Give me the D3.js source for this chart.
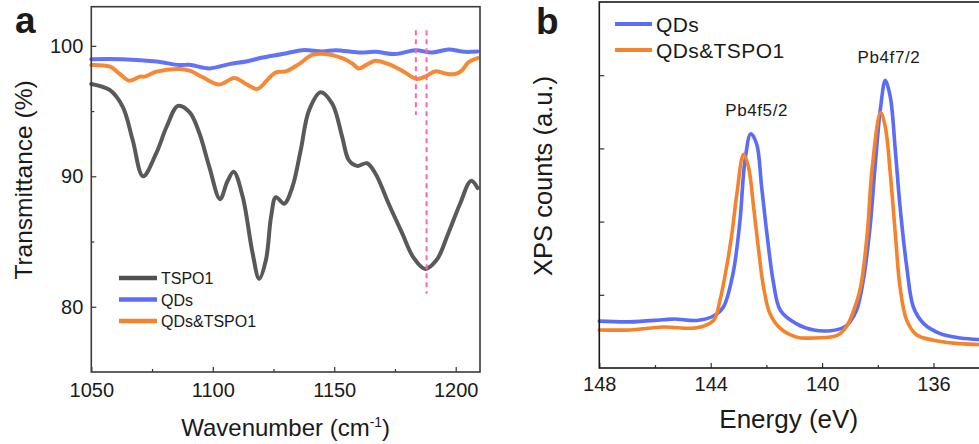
<!DOCTYPE html>
<html><head><meta charset="utf-8">
<script src="https://cdn.jsdelivr.net/npm/d3@7"></script>
<style>
body{margin:0;background:#fff}
text{font-family:Arial,"Liberation Sans",Helvetica,sans-serif;fill:#1a1a1a}
</style></head>
<body><svg id="chart" width="979" height="444"></svg>
<script>
// ---------- Panel a: FTIR ----------
const tspo1Wave = [1050,1057.7,1063,1067,1071.3,1076.8,1081,1085.7,1090.5,1094.5,1098.6,1103,1106,1108.6,1112.3,1116.4,1119.1,1121.9,1124,1126,1129.4,1132.8,1136.2,1139.6,1144.4,1149.2,1153.3,1156,1159.4,1163.5,1167,1172.4,1177.9,1182.7,1187.4,1192.2,1197,1201.8,1206.3,1209];
const tspo1T   = [97.08,96.6,95.3,92.8,90.0,91.8,93.8,95.4,94.9,93.3,90.7,88.25,89.6,90.35,88.45,84.1,82.15,83.6,86.9,88.4,87.9,89.2,92.0,95.05,96.45,95.56,93.0,91.24,90.8,91.0,90.2,87.9,85.66,83.75,82.9,83.6,85.66,87.9,89.65,89.1];
const qdsWave = [1050,1063,1076.8,1086.3,1090.4,1098.6,1106.8,1113.7,1120.5,1128.7,1136.9,1145.1,1150.6,1160.1,1167,1175.2,1183.4,1190.2,1197,1203.8,1209];
const qdsT    = [98.98,98.98,98.8,98.53,98.55,98.27,98.6,98.8,99.1,99.37,99.67,99.57,99.67,99.49,99.54,99.37,99.67,99.49,99.72,99.54,99.57];
const mixWave = [1050,1057.7,1061.8,1065.6,1070,1072,1076.8,1086.3,1090.4,1095.9,1102.7,1108.9,1113.7,1118.4,1123.2,1126,1130,1135.5,1140.9,1146.4,1153.3,1157.4,1160.1,1164.2,1167,1172.4,1177.9,1184,1187.4,1191.5,1195.6,1199.7,1202.5,1205.2,1209];
const mixT    = [98.53,98.4,97.84,97.33,97.64,97.64,98.02,98.22,98.1,97.59,97.03,97.54,97.08,96.7,97.54,97.97,98.04,98.6,99.3,99.37,99.06,98.65,98.27,98.65,98.86,98.6,98.1,97.46,97.64,98.04,97.89,97.84,98.1,98.73,99.06];
const ftirXTicks = [1050,1100,1150,1200];
const ftirXMinor = [1075,1125,1175];
const ftirYTicks = [80,90,100];
const ftirYMinor = [85,95];
const markerWave = [1183.6,1188];
const markerTop  = [101.2,101.2];
const markerBot  = [94.7,81.0];
const ftirSeries = ["TSPO1","QDs","QDs&TSPO1"];

// ---------- Panel b: XPS ----------
const xpsEQDs = [148,146.9,145.7,145.3,144.5,143.9,143.55,143.2,142.95,142.77,142.56,142.35,142.17,141.98,141.74,141.5,140.9,140.3,139.7,139.2,139.0,138.76,138.52,138.28,138.1,137.9,137.73,137.55,137.37,137.2,136.96,136.72,136.36,135.76,135.04,134.36];
const xpsQDs  = [0.64,0.63,0.66,0.67,0.65,0.71,0.83,1.29,2.01,2.83,3.20,3.06,2.47,1.83,1.15,0.79,0.60,0.52,0.51,0.56,0.63,0.79,1.20,1.92,2.74,3.56,3.93,3.70,2.97,2.20,1.38,0.83,0.61,0.47,0.41,0.39];
const xpsEMix = [148,146.9,145.7,144.5,143.9,143.67,143.43,143.24,143.06,142.82,142.64,142.46,142.28,142.1,141.87,141.5,140.9,140.3,139.58,139.35,139.1,138.86,138.62,138.38,138.2,137.9,137.73,137.55,137.37,137.2,136.96,136.6,136.0,135.28,134.36];
const xpsMix  = [0.52,0.52,0.56,0.55,0.65,0.92,1.38,1.83,2.38,2.92,2.74,2.20,1.61,1.10,0.74,0.54,0.42,0.41,0.43,0.47,0.58,0.79,1.10,1.83,2.74,3.49,3.29,2.65,1.83,1.10,0.65,0.45,0.38,0.34,0.32];
const xpsXTicks = [148,144,140,136];
const xpsXMinor = [146,142,138];
const xpsYTicks = [1,2,3,4];
const xpsSeries = ["QDs","QDs&TSPO1"];
const peakLabels = ["Pb4f5/2","Pb4f7/2"];
const peakLabelE = [142.35,137.6];
const peakLabelY = [3.44,4.16];

const colGray = "#505050", colBlue = "#5b6cf6", colOrange = "#f5832b", colPink = "#ff66b0";
const svg = d3.select("#chart");

// ===== Panel a =====
const xA = d3.scaleLinear().domain([1050,1210]).range([91.3,480]);
const yA = d3.scaleLinear().domain([75,103]).range([372,6.7]);
const gA = svg.append("g");

function styleAxis(g){
  g.select(".domain").remove();
  g.selectAll(".tick line").attr("stroke","#333").attr("stroke-width",1.2);
  g.selectAll(".tick text").style("font-size","20px").attr("fill","#1a1a1a");
}
gA.append("g").attr("transform","translate(0,372)")
  .call(d3.axisBottom(xA).tickValues(ftirXTicks).tickSize(-5).tickPadding(10.5).tickFormat(d3.format("d"))).call(styleAxis);
gA.append("g").attr("transform","translate(0,372)")
  .call(d3.axisBottom(xA).tickValues(ftirXMinor).tickSize(-3).tickFormat("")).call(styleAxis);
gA.append("g").attr("transform","translate(91.3,0)")
  .call(d3.axisLeft(yA).tickValues(ftirYTicks).tickSize(-5).tickPadding(8).tickFormat(d3.format("d"))).call(styleAxis);
gA.append("g").attr("transform","translate(91.3,0)")
  .call(d3.axisLeft(yA).tickValues(ftirYMinor).tickSize(-3).tickFormat("")).call(styleAxis);

const lineA = d3.line().x(d=>xA(d[0])).y(d=>yA(d[1])).curve(d3.curveCatmullRom.alpha(0.5));
const ftirData = [
  {name:ftirSeries[1], col:colBlue, pts:d3.zip(qdsWave,qdsT)},
  {name:ftirSeries[2], col:colOrange, pts:d3.zip(mixWave,mixT)},
  {name:ftirSeries[0], col:colGray, pts:d3.zip(tspo1Wave,tspo1T)}
];
ftirData.forEach(s=>{
  gA.append("path").attr("d",lineA(s.pts)).attr("fill","none").attr("stroke",s.col)
    .attr("stroke-width",4).attr("stroke-linejoin","round").attr("stroke-linecap","round").attr("stroke-opacity",0.95);
});
markerWave.forEach((w,i)=>{
  gA.append("line").attr("x1",xA(w)).attr("x2",xA(w)).attr("y1",yA(markerTop[i])).attr("y2",yA(markerBot[i]))
    .attr("stroke",colPink).attr("stroke-width",2).attr("stroke-dasharray","5,4");
});
// frame
gA.append("rect").attr("x",91.3).attr("y",6.7).attr("width",480-91.3).attr("height",372-6.7)
  .attr("fill","none").attr("stroke","#3a3a3a").attr("stroke-width",1.6);
// legend
const legACols = [colGray,colBlue,colOrange];
ftirSeries.forEach((n,i)=>{
  const y = 278 + i*21.5;
  gA.append("line").attr("x1",119).attr("x2",157).attr("y1",y).attr("y2",y)
    .attr("stroke",legACols[i]).attr("stroke-width",4.5);
  gA.append("text").attr("x",161).attr("y",y+6).text(n).style("font-size","16px");
});
gA.append("text").attr("x",15).attr("y",33).text("a").style("font-size","37px").style("font-weight","bold").attr("fill","#000");
gA.append("text").attr("x",xA(1130)).attr("y",436).attr("text-anchor","middle").style("font-size","24px")
  .call(t=>{t.append("tspan").text("Wavenumber (cm");t.append("tspan").attr("dy",-9).style("font-size","14px").text("-1");t.append("tspan").attr("dy",9).text(")");});
gA.append("text").attr("transform","translate(32,180) rotate(-90)").attr("text-anchor","middle")
  .style("font-size","24.5px").text("Transmittance (%)");

// ===== Panel b =====
const xB = d3.scaleLinear().domain([148,134]).range([599.3,599.3+14*27.85]);
const yB = d3.scaleLinear().domain([0,5]).range([368,2]);
const gB = svg.append("g");
gB.append("g").attr("transform","translate(0,368)")
  .call(d3.axisBottom(xB).tickValues(xpsXTicks).tickSize(-5).tickPadding(8.5).tickFormat(d3.format("d"))).call(styleAxis);
gB.append("g").attr("transform","translate(0,368)")
  .call(d3.axisBottom(xB).tickValues(xpsXMinor).tickSize(-3).tickFormat("")).call(styleAxis);
gB.append("g").attr("transform","translate(599.3,0)")
  .call(d3.axisLeft(yB).tickValues(xpsYTicks).tickSize(-5).tickFormat("")).call(styleAxis);

const lineB = d3.line().x(d=>xB(d[0])).y(d=>yB(d[1])).curve(d3.curveCatmullRom.alpha(0.5));
const xpsData = [
  {col:colBlue, pts:d3.zip(xpsEQDs,xpsQDs)},
  {col:colOrange, pts:d3.zip(xpsEMix,xpsMix)}
];
xpsData.forEach(s=>{
  gB.append("path").attr("d",lineB(s.pts)).attr("fill","none").attr("stroke",s.col)
    .attr("stroke-width",3.6).attr("stroke-linejoin","round").attr("stroke-linecap","round");
});
gB.append("rect").attr("x",599.3).attr("y",2).attr("width",xB(134)-599.3).attr("height",366)
  .attr("fill","none").attr("stroke","#1a1a1a").attr("stroke-width",1.6);
const legBCols = [colBlue,colOrange];
xpsSeries.forEach((n,i)=>{
  const y = 24 + i*26;
  gB.append("line").attr("x1",615).attr("x2",652).attr("y1",y).attr("y2",y)
    .attr("stroke",legBCols[i]).attr("stroke-width",4);
  gB.append("text").attr("x",656).attr("y",y+7.5).text(n).style("font-size","21px").style("letter-spacing","0.4px");
});
peakLabels.forEach((p,i)=>{
  gB.append("text").attr("x",xB(peakLabelE[i])).attr("y",yB(peakLabelY[i])).attr("text-anchor","middle")
    .style("font-size","17px").style("letter-spacing","0.6px").text(p);
});
gB.append("text").attr("x",536).attr("y",34).text("b").style("font-size","37px").style("font-weight","bold").attr("fill","#000");
gB.append("text").attr("x",xB(141.2)).attr("y",428).attr("text-anchor","middle").style("font-size","26px").text("Energy (eV)");
gB.append("text").attr("transform","translate(552,176) rotate(-90)").attr("text-anchor","middle")
  .style("font-size","25.5px").text("XPS counts (a.u.)");
</script></body></html>
